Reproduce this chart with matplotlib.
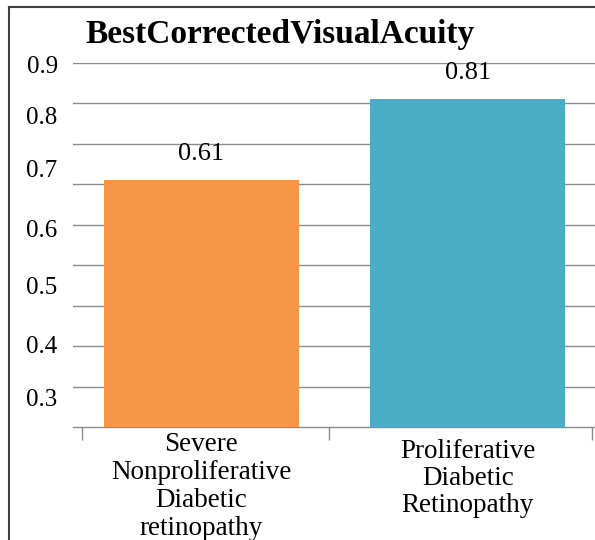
import numpy as np
import matplotlib
matplotlib.use("Agg")
import matplotlib.pyplot as plt

plt.rcParams['font.family'] = ['Liberation Serif', 'DejaVu Serif']

# chart data
categories = ["Severe\nNonproliferative\nDiabetic\nretinopathy",
              "Proliferative\nDiabetic\nRetinopathy"]
values = [0.61, 0.81]
bar_colors = ["#F79646", "#4BACC6"]
grid_levels = [0.1, 0.2, 0.3, 0.4, 0.5, 0.6, 0.7, 0.8, 0.9]
ytick_pos = [0.072, 0.205, 0.351, 0.491, 0.640, 0.770, 0.896]
ytick_labels = ["0.3", "0.4", "0.5", "0.6", "0.7", "0.8", "0.9"]
boundaries = [-0.448, 0.478, 1.465]

fig = plt.figure(figsize=(5.95, 5.4), dpi=100)
ax = fig.add_axes([0.1227, 0.2093, 0.8773, 0.674])

x = np.arange(len(values))
ax.bar(x, values, width=0.732, color=bar_colors, zorder=3)

for lvl in grid_levels:
    ax.axhline(lvl, color="#8c8c8c", lw=1.0, zorder=1)

for xi, v in zip(x, values):
    ax.text(xi, v + 0.065, f"{v:.2f}", ha="center", va="center", fontsize=19)

ax.set_xlim(-0.482, 1.477)
ax.set_ylim(0, 0.9)

for s in ["top", "right", "left"]:
    ax.spines[s].set_visible(False)
ax.spines["bottom"].set_color("#8c8c8c")
ax.spines["bottom"].set_linewidth(1.0)

ax.set_xticks(boundaries)
ax.set_xticklabels([])
ax.tick_params(axis="x", length=9, color="#8c8c8c", width=1.0)

# category names under each bar
ax.text(x[0], -0.012, categories[0], ha="center", va="top", fontsize=19.5,
        linespacing=1.16)
ax.text(x[1], -0.03, categories[1], ha="center", va="top", fontsize=19.5,
        linespacing=1.10)

ax.set_yticks(ytick_pos)
ax.set_yticklabels(ytick_labels, fontsize=18)
ax.tick_params(axis="y", length=0, pad=11)

fig.text(85 / 595, 1 - 43 / 540, "BestCorrectedVisualAcuity", fontsize=24,
         fontweight="bold", va="baseline", ha="left")

# outer frame lines (top and left)
fig.add_artist(plt.Line2D([9 / 595, 9 / 595], [0, 1 - 7 / 540],
                          color="#404040", lw=1.5, transform=fig.transFigure))
fig.add_artist(plt.Line2D([9 / 595, 1], [1 - 7 / 540, 1 - 7 / 540],
                          color="#404040", lw=1.5, transform=fig.transFigure))

fig.savefig("out.png", dpi=100)
